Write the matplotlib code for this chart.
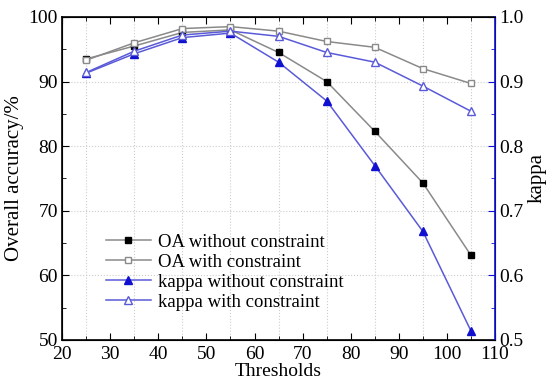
import matplotlib
matplotlib.use('Agg')
from matplotlib import pyplot as plt
from matplotlib.ticker import MultipleLocator

# data
thresholds = [25, 35, 45, 55, 65, 75, 85, 95, 105]
oa_without = [93.5, 95.5, 97.6, 98.0, 94.5, 90.0, 82.3, 74.3, 63.1]
oa_with = [93.3, 96.0, 98.2, 98.5, 97.8, 96.2, 95.3, 92.0, 89.7]
kappa_without = [0.913, 0.943, 0.968, 0.975, 0.930, 0.870, 0.770, 0.668, 0.514]
kappa_with = [0.914, 0.947, 0.972, 0.978, 0.970, 0.945, 0.930, 0.893, 0.854]

plt.rcParams['font.family'] = ['Liberation Serif', 'DejaVu Serif']
plt.rcParams['font.size'] = 11

fig = plt.figure(figsize=(5.5, 3.85), dpi=100)
ax = fig.add_axes([0.113, 0.117, 0.787, 0.839])
ax2 = ax.twinx()

gray = '#8a8a8a'
blue_line = '#5a5ad8'
blue = '#1010d0'

l1, = ax.plot(thresholds, oa_without, '-s', color=gray, lw=1.1, ms=5,
              mfc='black', mec='black', label='OA without constraint')
l2, = ax.plot(thresholds, oa_with, '-s', color=gray, lw=1.1, ms=5,
              mfc='white', mec=gray, label='OA with constraint')
l3, = ax2.plot(thresholds, kappa_without, '-^', color=blue_line, lw=1.1, ms=6,
               mfc=blue, mec=blue, label='kappa without constraint')
l4, = ax2.plot(thresholds, kappa_with, '-^', color=blue_line, lw=1.1, ms=6,
               mfc='white', mec=blue_line, label='kappa with constraint')

ax.set_xlim(20, 110)
ax.set_ylim(50, 100)
ax2.set_ylim(0.5, 1.0)
ax.xaxis.set_major_locator(MultipleLocator(10))
ax.xaxis.set_minor_locator(MultipleLocator(5))
ax.yaxis.set_major_locator(MultipleLocator(10))
ax.yaxis.set_minor_locator(MultipleLocator(5))
ax2.yaxis.set_major_locator(MultipleLocator(0.1))
ax2.yaxis.set_minor_locator(MultipleLocator(0.05))
ax2.yaxis.set_major_formatter(plt.FormatStrFormatter('%.1f'))

# grid at the minor x positions and major y positions
for x in [25, 35, 45, 55, 65, 75, 85, 95, 105]:
    ax.axvline(x, color='#cccccc', lw=0.8, ls=':', zorder=0)
for y in [60, 70, 80, 90]:
    ax.axhline(y, color='#cccccc', lw=0.8, ls=':', zorder=0)

ax.tick_params(axis='both', which='both', direction='in', top=True, right=False)
ax.tick_params(which='major', length=5, labelsize=14)
ax.tick_params(which='minor', length=3)
ax.tick_params(axis='x', pad=4)
ax.tick_params(axis='y', pad=3)
ax2.tick_params(axis='y', which='both', direction='in', colors=blue, labelcolor='black', labelsize=14)
ax2.tick_params(which='major', length=5, pad=3)
ax2.tick_params(which='minor', length=3)
ax2.spines['right'].set_color(blue)
for s in ['left', 'bottom', 'top']:
    ax.spines[s].set_linewidth(1.2)
ax2.spines['right'].set_linewidth(1.2)

ax.set_xlabel('Thresholds', fontsize=14, labelpad=0)
ax.set_ylabel('Overall accuracy/%', fontsize=15, labelpad=3)
ax2.set_ylabel('kappa', fontsize=15, labelpad=3)

ax.legend(handles=[l1, l2, l3, l4], loc='lower left', bbox_to_anchor=(0.07, 0.05),
          frameon=False, fontsize=13.5, handlelength=2.4, labelspacing=0.15,
          handletextpad=0.4, borderpad=0.2)

fig.savefig('out.png', dpi=100)
